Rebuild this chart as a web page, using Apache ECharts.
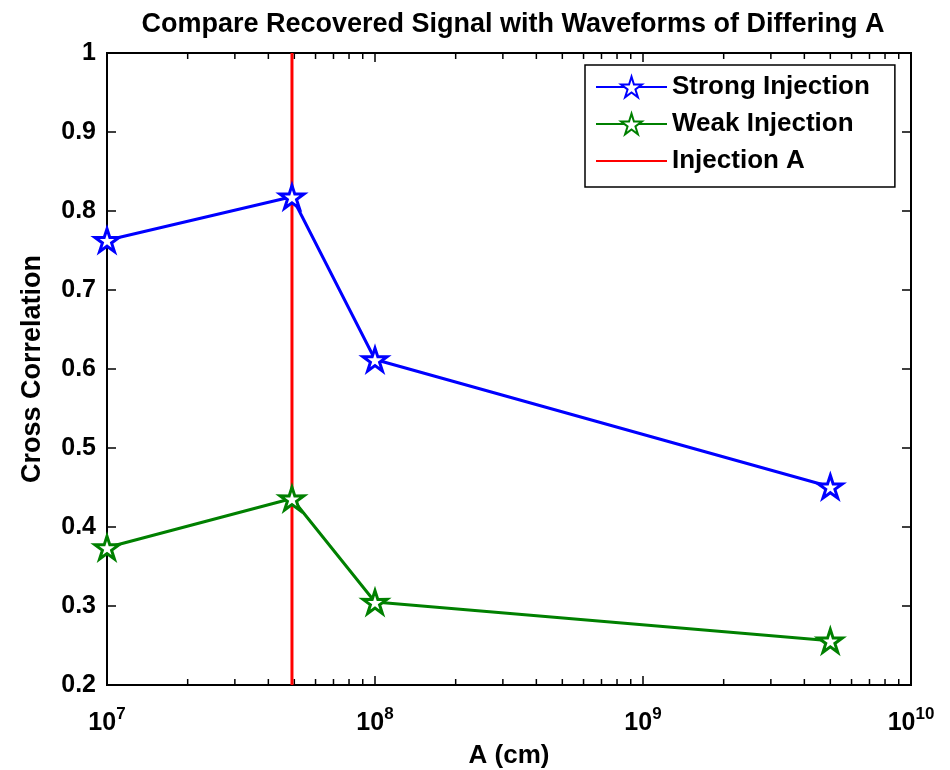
<!DOCTYPE html>
<html>
<head>
<meta charset="utf-8">
<script src="https://cdn.jsdelivr.net/npm/echarts@6/dist/echarts.min.js"></script>
<style>
  html, body { margin: 0; padding: 0; background: #fff; }
  #chart { width: 950px; height: 770px; }
</style>
</head>
<body>
<div id="chart"></div>
<script>
// data
const aValues = [1e7, 4.9e7, 1e8, 5e9]
const strongInjection = [0.763, 0.818, 0.612, 0.451]
const weakInjection = [0.374, 0.436, 0.305, 0.256]
const injectionA = 4.9e7
const yTicks = [0.2, 1]
const decades = [1e7, 1e8, 1e9, 1e10]

// minor log ticks 2..9 per decade
const minorTicks = []
for (let d = 0; d < decades.length - 1; d++) {
  for (let m = 2; m < 10; m++) minorTicks.push(decades[d] * m)
}

const font = 'Liberation Sans'
const star = 'path://M100,0 L122.35,69.26 L195.1,69.1 L136.14,111.74 L158.8,180.9 L100,138 L41.2,180.9 L63.86,111.74 L4.9,69.1 L77.65,69.26 Z'

const chart = echarts.init(document.getElementById('chart'), null, { renderer: 'canvas' })

function lineSeries(name, values, color) {
  return {
    name: name,
    type: 'line',
    xAxisIndex: 0,
    yAxisIndex: 0,
    data: aValues.map((a, i) => [a, values[i]]),
    symbol: star,
    symbolSize: 24,
    symbolKeepAspect: true,
    showAllSymbol: true,
    lineStyle: { color: color, width: 3 },
    itemStyle: { color: '#fff', borderColor: color, borderWidth: 3 },
    emphasis: { disabled: true },
    z: 3
  }
}

const tickStyle = { color: '#000', width: 1.5 }

chart.setOption({
  backgroundColor: '#fff',
  animation: false,
  title: {
    text: 'Compare Recovered Signal with Waveforms of Differing A',
    left: 508,
    textAlign: 'center',
    top: 6,
    textStyle: { fontFamily: font, fontSize: 27, fontWeight: 'bold', color: '#000' }
  },
  grid: {
    left: 107,
    right: 39,
    top: 53,
    bottom: 85,
    outerBoundsMode: 'none',
    containLabel: false,
    show: true,
    borderColor: '#000',
    borderWidth: 2,
    backgroundColor: '#fff'
  },
  legend: {
    data: [
      'Strong Injection',
      'Weak Injection',
      { name: 'Injection A', itemStyle: { opacity: 0 } }
    ],
    orient: 'vertical',
    left: 585,
    top: 65,
    padding: [9, 25, 13, 10],
    itemWidth: 71,
    itemHeight: 26,
    itemGap: 11,
    backgroundColor: '#fff',
    borderColor: '#000',
    borderWidth: 1.5,
    borderRadius: 0,
    textStyle: { fontFamily: font, fontSize: 26, fontWeight: 'bold', color: '#000' }
  },
  xAxis: [{
    type: 'log',
    logBase: 10,
    min: decades[0],
    max: decades[decades.length - 1],
    position: 'bottom',
    name: 'A (cm)',
    nameLocation: 'middle',
    nameGap: 58,
    nameTextStyle: { fontFamily: font, fontSize: 26, fontWeight: 'bold', color: '#000' },
    axisLine: { show: false },
    axisTick: { inside: true, length: 9, lineStyle: tickStyle },
    splitLine: { show: false },
    axisLabel: {
      margin: 21,
      formatter(v) {
        return '{b|10}{e|' + Math.round(Math.log10(v)) + '}'
      },
      rich: {
        b: { fontFamily: font, fontSize: 25, fontWeight: 'bold', color: '#000' },
        e: { fontFamily: font, fontSize: 17, fontWeight: 'bold', color: '#000', padding: [0, 0, 18, 0] }
      }
    }
  }, {
    type: 'log',
    logBase: 10,
    min: decades[0],
    max: decades[decades.length - 1],
    position: 'top',
    axisLine: { show: false },
    axisTick: { inside: true, length: 9, lineStyle: tickStyle },
    splitLine: { show: false },
    axisLabel: { show: false }
  }],
  yAxis: [{
    type: 'value',
    min: yTicks[0],
    max: yTicks[1],
    interval: 0.1,
    position: 'left',
    name: 'Cross Correlation',
    nameLocation: 'middle',
    nameGap: 61,
    nameTextStyle: { fontFamily: font, fontSize: 27, fontWeight: 'bold', color: '#000' },
    axisLine: { show: false },
    axisTick: { inside: true, length: 9, lineStyle: tickStyle },
    splitLine: { show: false },
    axisLabel: { margin: 11, fontFamily: font, fontSize: 25, fontWeight: 'bold', color: '#000' }
  }, {
    type: 'value',
    min: yTicks[0],
    max: yTicks[1],
    interval: 0.1,
    position: 'right',
    axisLine: { show: false },
    axisTick: { inside: true, length: 9, lineStyle: tickStyle },
    splitLine: { show: false },
    axisLabel: { show: false }
  }],
  series: [
    {
      name: 'minor ticks',
      type: 'custom',
      xAxisIndex: 0,
      yAxisIndex: 0,
      silent: true,
      z: 1,
      data: minorTicks.map(v => [v, yTicks[0]]),
      renderItem(params, api) {
        const x = api.value(0)
        const pb = api.coord([x, yTicks[0]])
        const pt = api.coord([x, yTicks[1]])
        return {
          type: 'group',
          children: [
            { type: 'line', shape: { x1: pb[0], y1: pb[1], x2: pb[0], y2: pb[1] - 6 }, style: { stroke: '#000', lineWidth: 1.5 } },
            { type: 'line', shape: { x1: pt[0], y1: pt[1], x2: pt[0], y2: pt[1] + 6 }, style: { stroke: '#000', lineWidth: 1.5 } }
          ]
        }
      }
    },
    lineSeries('Strong Injection', strongInjection, '#0000ff'),
    lineSeries('Weak Injection', weakInjection, '#008000'),
    {
      name: 'Injection A',
      type: 'line',
      data: [[injectionA, yTicks[0]], [injectionA, yTicks[1]]],
      symbol: 'none',
      lineStyle: { color: '#ff0000', width: 3 },
      itemStyle: { color: '#ff0000' },
      emphasis: { disabled: true },
      z: 2
    }
  ]
})
</script>
</body>
</html>
